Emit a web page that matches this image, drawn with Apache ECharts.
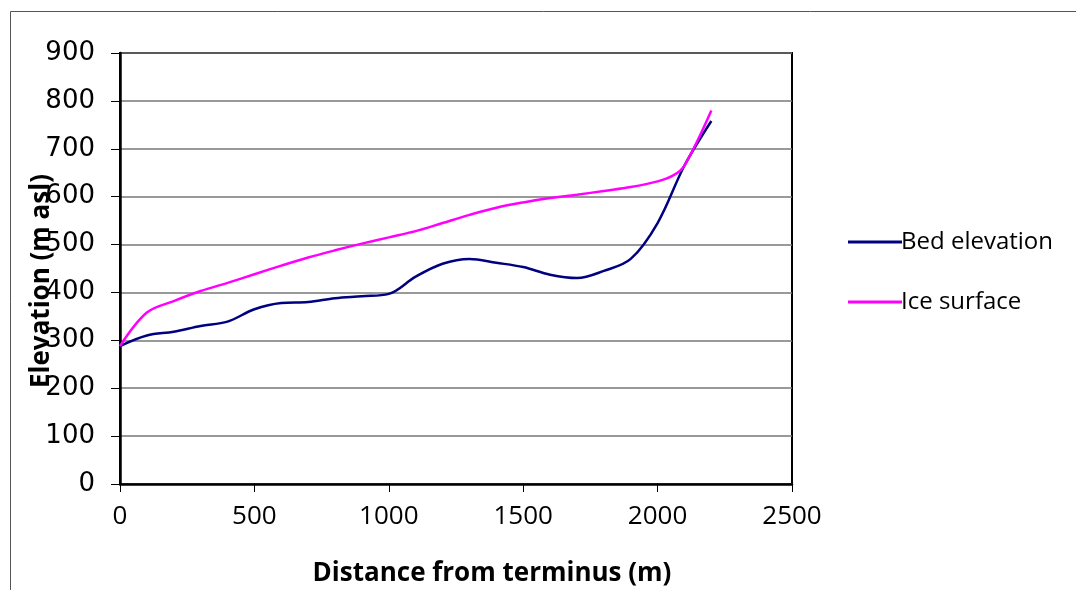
<!DOCTYPE html>
<html>
<head>
<meta charset="utf-8">
<script src="https://cdn.jsdelivr.net/npm/echarts@6/dist/echarts.min.js"></script>
<style>
html,body{margin:0;padding:0;background:#fff;}
#chart{width:1076px;height:590px;}
</style>
</head>
<body>
<div id="chart"></div>
<script>
const xTicks = [0, 500, 1000, 1500, 2000, 2500];
const yTicks = [0, 100, 200, 300, 400, 500, 600, 700, 800, 900];

const bedDistance = [0, 100, 200, 300, 400, 500, 600, 700, 800, 900, 1000, 1100, 1200, 1300, 1400, 1500, 1600, 1700, 1800, 1900, 2000, 2100, 2200];
const bedElevation = [288, 310, 318, 330, 339, 365, 378, 380, 388, 392, 397, 433, 460, 470, 462, 453, 437, 430, 445, 470, 545, 665, 758];

const iceDistance = [0, 100, 200, 300, 400, 500, 600, 700, 800, 900, 1000, 1100, 1200, 1300, 1400, 1500, 1600, 1700, 1800, 1900, 2000, 2060, 2100, 2200];
const iceElevation = [288, 358, 382, 403, 420, 438, 456, 473, 488, 502, 515, 528, 545, 562, 577, 588, 597, 604, 612, 620, 632, 645, 665, 780];

const seriesNames = ['Bed elevation', 'Ice surface'];
const xTitle = 'Distance from terminus (m)';
const yTitle = 'Elevation (m asl)';

const chart = echarts.init(document.getElementById('chart'));
const font = 'Open Sans';
chart.setOption({
  animation: false,
  backgroundColor: '#fff',
  grid: {left: 120, top: 53, width: 672, height: 431, show: true, borderColor: '#000', borderWidth: 2, backgroundColor: 'transparent'},
  legend: {
    orient: 'vertical', left: 843, top: 225, itemGap: 36,
    icon: 'rect', itemWidth: 54, itemHeight: 3,
    textStyle: {fontFamily: font, fontSize: 24, color: '#000', padding: [0,0,0,-6]},
    data: seriesNames
  },
  xAxis: {
    type: 'value', min: xTicks[0], max: xTicks[xTicks.length-1], interval: 500,
    axisLine: {show: true, lineStyle: {color: '#000', width: 2.5}},
    axisTick: {show: true, inside: false, length: 8, lineStyle: {color: '#000', width: 1}},
    axisLabel: {fontFamily: font, fontSize: 26, color: '#000', margin: 20, formatter: v => String(v)},
    splitLine: {show: false}
  },
  yAxis: {
    type: 'value', min: yTicks[0], max: yTicks[yTicks.length-1], interval: 100,
    axisLine: {show: true, lineStyle: {color: '#000', width: 2.5}},
    axisTick: {show: true, inside: false, length: 9, lineStyle: {color: '#000', width: 1}},
    axisLabel: {fontFamily: 'DejaVu Sans', fontSize: 26, color: '#000', margin: 25, formatter: v => String(v)},
    splitLine: {show: true, lineStyle: {color: '#777', width: 1.5}}
  },
  series: [
    {name: seriesNames[0], type: 'line', smooth: 0.35, showSymbol: false, color: '#000080',
     lineStyle: {width: 2.5, color: '#000080'},
     data: bedDistance.map((d, i) => [d, bedElevation[i]])},
    {name: seriesNames[1], type: 'line', smooth: 0.35, showSymbol: false, color: '#FF00FF',
     lineStyle: {width: 2.5, color: '#FF00FF'},
     data: iceDistance.map((d, i) => [d, iceElevation[i]])}
  ],
  graphic: [
    {type: 'rect', left: 8, top: 9, shape: {width: 1100, height: 600}, style: {fill: 'none', stroke: '#555', lineWidth: 1}, silent: true},
    {type: 'text', x: 492, y: 574, style: {text: xTitle, font: 'bold 26px "Open Sans"', fill: '#000', align: 'center', verticalAlign: 'middle'}},
    {type: 'text', x: 42, y: 281, rotation: Math.PI/2, style: {text: yTitle, font: 'bold 26px "Open Sans"', fill: '#000', align: 'center', verticalAlign: 'middle'}, z: 100}
  ]
});
</script>
</body>
</html>
